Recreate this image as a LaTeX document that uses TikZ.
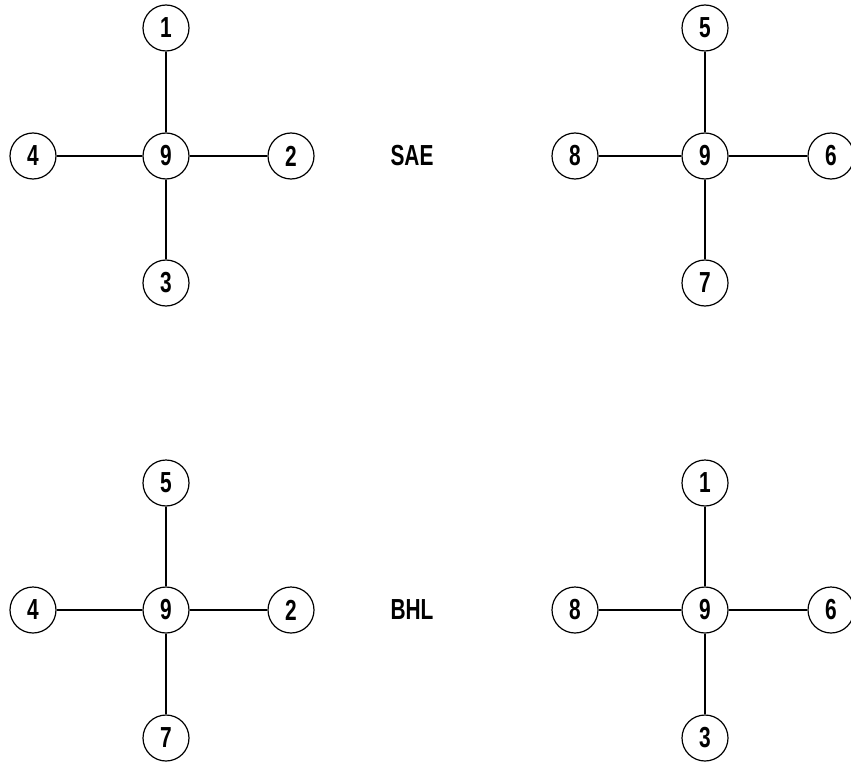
\documentclass[tikz,border=0pt]{standalone}
\usepackage{fontspec}
\setmainfont{Liberation Sans}
\begin{document}
\begin{tikzpicture}[x=1pt,y=-1pt,
  nd/.style={circle,draw,line width=1.2pt,minimum size=46pt,inner sep=0pt,font=\fontsize{29}{29}\selectfont\bfseries},
  lbl/.style={font=\fontsize{29}{29}\selectfont\bfseries},
  edge/.style={line width=1.2pt}]
\useasboundingbox[fill=white] (0,0) rectangle (851,762);
\newcommand{\nm}[1]{\scalebox{0.72}[1]{#1}}
% top-left
\node[nd] (a9) at (166,156) {\nm{9}};
\node[nd] (a1) at (166,28) {\nm{1}};
\node[nd] (a3) at (166,283) {\nm{3}};
\node[nd] (a4) at (33,156) {\nm{4}};
\node[nd] (a2) at (291,156) {\nm{2}};
\draw[edge] (a9)--(a1) (a9)--(a3) (a9)--(a4) (a9)--(a2);
% top-right
\node[nd] (b9) at (705,156) {\nm{9}};
\node[nd] (b5) at (705,28) {\nm{5}};
\node[nd] (b7) at (705,283) {\nm{7}};
\node[nd] (b8) at (575,156) {\nm{8}};
\node[nd] (b6) at (831,156) {\nm{6}};
\draw[edge] (b9)--(b5) (b9)--(b7) (b9)--(b8) (b9)--(b6);
% bottom-left
\node[nd] (c9) at (166,610) {\nm{9}};
\node[nd] (c5) at (166,483) {\nm{5}};
\node[nd] (c7) at (166,738) {\nm{7}};
\node[nd] (c4) at (33,610) {\nm{4}};
\node[nd] (c2) at (291,610) {\nm{2}};
\draw[edge] (c9)--(c5) (c9)--(c7) (c9)--(c4) (c9)--(c2);
% bottom-right
\node[nd] (d9) at (705,610) {\nm{9}};
\node[nd] (d1) at (705,483) {\nm{1}};
\node[nd] (d3) at (705,738) {\nm{3}};
\node[nd] (d8) at (575,610) {\nm{8}};
\node[nd] (d6) at (831,610) {\nm{6}};
\draw[edge] (d9)--(d1) (d9)--(d3) (d9)--(d8) (d9)--(d6);
% labels
\node[lbl] (sae) at (412,156) {\nm{SAE}};
\node[lbl] (bhl) at (412,610) {\nm{BHL}};
\end{tikzpicture}
\end{document}
